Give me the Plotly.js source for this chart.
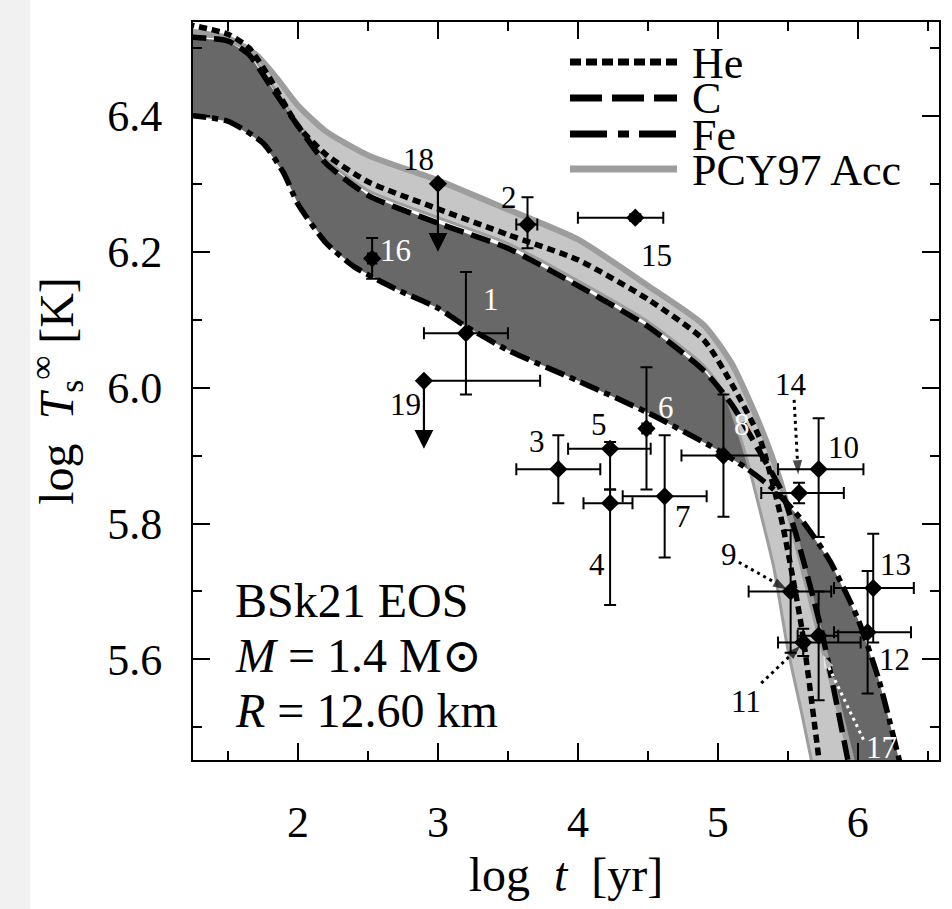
<!DOCTYPE html>
<html>
<head>
<meta charset="utf-8">
<script src="https://cdn.plot.ly/plotly-3.0.1.min.js"></script>
<style>
  html, body { margin: 0; padding: 0; background: #ffffff; }
  #chart { width: 952px; height: 909px; }
</style>
</head>
<body>
<div id="chart"></div>
<script>
// ---- Cooling curves: log t [yr] vs log Ts^inf [K] ----
// Non-accreted iron envelope (dash-dot)
const feLogT  = [1.20, 1.50, 1.75, 1.90, 2.00, 2.20, 2.40, 2.70, 3.00, 3.20, 3.50, 4.00, 4.50, 5.00, 5.20, 5.40, 5.60, 5.80, 6.00, 6.15, 6.31];
const feLogTs = [6.401, 6.392, 6.360, 6.315, 6.270, 6.213, 6.178, 6.145, 6.117, 6.090, 6.055, 6.010, 5.963, 5.908, 5.882, 5.850, 5.805, 5.745, 5.660, 5.570, 5.440];
// Carbon envelope (dashed)
const cLogT   = [1.20, 1.50, 1.65, 1.80, 2.00, 2.20, 2.50, 3.00, 3.50, 4.00, 4.50, 4.90, 5.10, 5.30, 5.45, 5.55, 5.74, 5.94];
const cLogTs  = [6.516, 6.510, 6.490, 6.445, 6.385, 6.330, 6.283, 6.242, 6.205, 6.150, 6.090, 6.025, 5.975, 5.905, 5.850, 5.790, 5.643, 5.440];
// Helium envelope (dotted)
const heLogT  = [1.20, 1.50, 1.65, 1.80, 2.00, 2.20, 2.50, 3.00, 3.50, 4.00, 4.50, 4.90, 5.10, 5.30, 5.45, 5.60, 5.73];
const heLogTs = [6.535, 6.520, 6.500, 6.455, 6.385, 6.343, 6.303, 6.263, 6.225, 6.188, 6.130, 6.070, 6.005, 5.925, 5.810, 5.645, 5.440];
// PCY97 accreted envelope: upper curve and lower edge of its band
const pcyLogT     = [1.20, 1.50, 1.70, 1.85, 2.00, 2.20, 2.50, 3.00, 3.50, 4.00, 4.50, 4.90, 5.10, 5.30, 5.45, 5.70, 5.85, 5.97];
const pcyLogTs    = [6.525, 6.514, 6.490, 6.455, 6.415, 6.377, 6.342, 6.305, 6.262, 6.218, 6.150, 6.092, 6.035, 5.945, 5.860, 5.660, 5.540, 5.440];
const pcyLowLogT  = [1.20, 1.50, 1.65, 1.80, 2.00, 2.20, 2.50, 3.00, 3.50, 4.00, 4.50, 4.90, 5.05, 5.20, 5.30, 5.40, 5.50, 5.60, 5.68];
const pcyLowLogTs = [6.519, 6.513, 6.494, 6.450, 6.390, 6.336, 6.290, 6.250, 6.212, 6.157, 6.097, 6.032, 5.990, 5.900, 5.820, 5.735, 5.615, 5.520, 5.440];

// ---- Observed isolated neutron stars ----
const srcId      = ['1', '2', '3', '4', '5', '6', '7', '8', '9', '10', '11', '12', '13', '14', '15', '16', '17'];
const srcLogT    = [3.20, 3.64, 3.86, 4.23, 4.23, 4.49, 4.62, 5.04, 5.52, 5.72, 5.61, 6.07, 6.11, 5.58, 4.41, 2.53, 5.72];
const srcTMinus  = [0.30, 0.08, 0.30, 0.19, 0.30, 0.03, 0.30, 0.30, 0.30, 0.29, 0.18, 0.24, 0.28, 0.27, 0.41, 0.03, 0.15];
const srcTPlus   = [0.30, 0.07, 0.30, 0.16, 0.29, 0.03, 0.30, 0.27, 0.29, 0.32, 0.41, 0.31, 0.29, 0.32, 0.20, 0.03, 0.14];
const srcLogTs   = [6.08, 6.24, 5.88, 5.83, 5.91, 5.94, 5.84, 5.90, 5.70, 5.88, 5.625, 5.64, 5.705, 5.845, 6.25, 6.19, 5.635];
const srcTsMinus = [0.09, 0.035, 0.05, 0.15, 0.06, 0.09, 0.09, 0.09, 0.09, 0.10, 0.02, 0.09, 0.08, 0.015, 0.005, 0.03, 0.095];
const srcTsPlus  = [0.09, 0.04, 0.05, 0.02, 0.01, 0.09, 0.09, 0.09, 0.09, 0.075, 0.02, 0.09, 0.08, 0.015, 0.005, 0.03, 0.065];

// Upper limits on temperature (18, 19)
const limId     = ['18', '19'];
const limLogT   = [3.00, 2.90];
const limTMinus = [0.00, 0.00];
const limTPlus  = [0.00, 0.83];
const limLogTs  = [6.30, 6.01];
const limTsDrop = [0.10, 0.10];

// ---- styling ----
const SERIF = "'Liberation Serif', 'DejaVu Serif', serif";
const DARK = '#686868';
const LIGHT = '#c6c6c6';
const PCY_GRAY = '#9d9d9d';

// plot-area pixel frame used for paper-referenced decorations
const L = 193, R = 939, T = 22, B = 760;
const px = (x) => (x - L) / (R - L);
const py = (y) => (B - y) / (B - T);

function band(x1, y1, x2, y2, color) {
  return {
    x: x1.concat(x2.slice().reverse()),
    y: y1.concat(y2.slice().reverse()),
    mode: 'lines', fill: 'toself', fillcolor: color,
    line: { width: 0 }, hoverinfo: 'skip', showlegend: false
  };
}

function curve(x, y, color, width, dash, name) {
  return { x: x, y: y, mode: 'lines', name: name, showlegend: false,
           line: { color: color, width: width, dash: dash, shape: 'spline', smoothing: 0.6 } };
}

const traces = [
  band(cLogT, cLogTs, feLogT, feLogTs, DARK),
  band(pcyLogT, pcyLogTs, pcyLowLogT, pcyLowLogTs, LIGHT),
  curve(pcyLowLogT, pcyLowLogTs, PCY_GRAY, 3, 'solid', 'PCY97 edge'),
  curve(pcyLogT, pcyLogTs, PCY_GRAY, 6, 'solid', 'PCY97 Acc'),
  curve(feLogT, feLogTs, '#000', 5.5, '20px,6px,6px,6px', 'Fe'),
  curve(cLogT, cLogTs, '#000', 5.5, '20px,8px', 'C'),
  curve(heLogT, heLogTs, '#000', 5.5, '8px,5px', 'He'),
  {
    x: srcLogT, y: srcLogTs, mode: 'markers', showlegend: false,
    marker: { symbol: 'diamond', size: 14, color: '#000' },
    error_x: { type: 'data', symmetric: false, array: srcTPlus, arrayminus: srcTMinus,
               color: '#000', thickness: 2, width: 6 },
    error_y: { type: 'data', symmetric: false, array: srcTsPlus, arrayminus: srcTsMinus,
               color: '#000', thickness: 2, width: 6 }
  },
  {
    x: limLogT, y: limLogTs, mode: 'markers', showlegend: false,
    marker: { symbol: 'diamond', size: 14, color: '#000' },
    error_x: { type: 'data', symmetric: false, array: limTPlus, arrayminus: limTMinus,
               color: '#000', thickness: 2, width: 6 }
  }
];

// dotted pointers from labels to crowded sources
const pointers = [
  { from: [5.545, 5.982], to: [5.574, 5.872], color: '#000' },   // 14
  { from: [5.150, 5.743], to: [5.495, 5.703], color: '#000' },   // 9
  { from: [5.310, 5.565], to: [5.590, 5.620], color: '#000' },   // 11
  { from: [6.040, 5.482], to: [5.750, 5.607], color: '#fff' }    // 17
];
pointers.forEach(p => {
  traces.push({
    x: [p.from[0], p.to[0]], y: [p.from[1], p.to[1]], mode: 'lines+markers', showlegend: false,
    line: { color: p.color, width: 3, dash: '3px,4px' },
    marker: { symbol: ['circle', 'arrow'], size: [0, 15], color: p.color, angleref: 'previous',
              line: { width: 0 } }
  });
});

const annotations = [];

// downward arrows marking the temperature upper limits
limLogT.forEach((x, i) => {
  annotations.push({
    x: x, y: limLogTs[i] - limTsDrop[i], ax: x, ay: limLogTs[i], xref: 'x', yref: 'y',
    axref: 'x', ayref: 'y', text: '', showarrow: true, arrowhead: 2, arrowsize: 1.7,
    arrowwidth: 2.2, arrowcolor: '#000'
  });
});

// source labels
const labelPos = {
  '1': [3.38, 6.129, '#fff'], '2': [3.51, 6.28, '#000'], '3': [3.71, 5.92, '#000'],
  '4': [4.14, 5.74, '#000'], '5': [4.15, 5.945, '#000'], '6': [4.63, 5.97, '#fff'],
  '7': [4.75, 5.81, '#000'], '8': [5.17, 5.945, '#fff'], '9': [5.08, 5.754, '#000'],
  '10': [5.90, 5.912, '#000'], '11': [5.20, 5.538, '#000'], '12': [6.26, 5.60, '#000'],
  '13': [6.27, 5.739, '#000'], '14': [5.52, 6.004, '#000'], '15': [4.56, 6.195, '#000'],
  '16': [2.70, 6.202, '#fff'], '17': [6.17, 5.47, '#fff'], '18': [2.86, 6.335, '#000'],
  '19': [2.77, 5.975, '#000']
};
Object.keys(labelPos).forEach(k => {
  const p = labelPos[k];
  annotations.push({ x: p[0], y: p[1], xref: 'x', yref: 'y', text: k, showarrow: false,
                     font: { family: SERIF, size: 31, color: p[2] } });
});

// model parameters
const info = ['BSk21 EOS', '<i>M</i> = 1.4 M⊙', '<i>R</i> = 12.60 km'];
info.forEach((t, i) => {
  annotations.push({ x: px(233), y: py(600 + 55 * i), xref: 'paper', yref: 'paper',
                     xanchor: 'left', yanchor: 'middle', text: t, showarrow: false,
                     font: { family: SERIF, size: 48, color: '#000' } });
});

// legend drawn as line samples + labels
const legendRows = [
  { label: 'He', color: '#000', width: 7, dash: '11px,5px', y: 62 },
  { label: 'C', color: '#000', width: 7, dash: '32px,10px', y: 98 },
  { label: 'Fe', color: '#000', width: 7, dash: '37px,11px,11px,10px', y: 134 },
  { label: 'PCY97 Acc', color: PCY_GRAY, width: 7, dash: 'solid', y: 169 }
];
const shapes = [
  { type: 'rect', xref: 'paper', yref: 'paper', x0: px(0), x1: px(30), y0: py(909), y1: py(0),
    fillcolor: '#f1f1f1', line: { width: 0 }, layer: 'below' }
];
legendRows.forEach(r => {
  shapes.push({ type: 'line', xref: 'paper', yref: 'paper', x0: px(570), x1: px(677),
                y0: py(r.y), y1: py(r.y), line: { color: r.color, width: r.width, dash: r.dash } });
  annotations.push({ x: px(690), y: py(r.y + 1), xref: 'paper', yref: 'paper', xanchor: 'left',
                     yanchor: 'middle', text: r.label, showarrow: false,
                     font: { family: SERIF, size: 44, color: '#000' } });
});

const axisCommon = {
  showgrid: false, zeroline: false, showline: true, linecolor: '#000', linewidth: 2,
  mirror: 'allticks', ticks: 'inside', ticklen: 17, tickwidth: 2, tickcolor: '#000',
  tickfont: { family: SERIF, size: 44, color: '#000' }
};

const layout = {
  width: 952, height: 909,
  margin: { l: L, r: 952 - R, t: T, b: 909 - B },
  paper_bgcolor: '#ffffff', plot_bgcolor: '#ffffff',
  showlegend: false,
  xaxis: Object.assign({}, axisCommon, {
    range: [1.25, 6.58], tickvals: [2, 3, 4, 5, 6], ticktext: ['2', '3', '4', '5', '6'],
    ticklabelstandoff: 22,
    minor: { dtick: 0.5, tick0: 0, ticks: 'inside', ticklen: 9, tickwidth: 2, tickcolor: '#000' },
    title: { text: 'log  <i>t</i>  [yr]', font: { family: SERIF, size: 48, color: '#000' }, standoff: 12 }
  }),
  yaxis: Object.assign({}, axisCommon, {
    range: [5.452, 6.538], tickvals: [5.6, 5.8, 6.0, 6.2, 6.4], tickformat: '.1f',
    ticklabelstandoff: 20,
    minor: { dtick: 0.1, tick0: 0, ticks: 'inside', ticklen: 9, tickwidth: 2, tickcolor: '#000' },
    title: { text: 'log  <i>T</i><sub>s</sub><sup>∞</sup> [K]', font: { family: SERIF, size: 48, color: '#000' }, standoff: 18 }
  }),
  annotations: annotations,
  shapes: shapes
};

Plotly.newPlot('chart', traces, layout, { staticPlot: true, displayModeBar: false });
</script>
</body>
</html>
